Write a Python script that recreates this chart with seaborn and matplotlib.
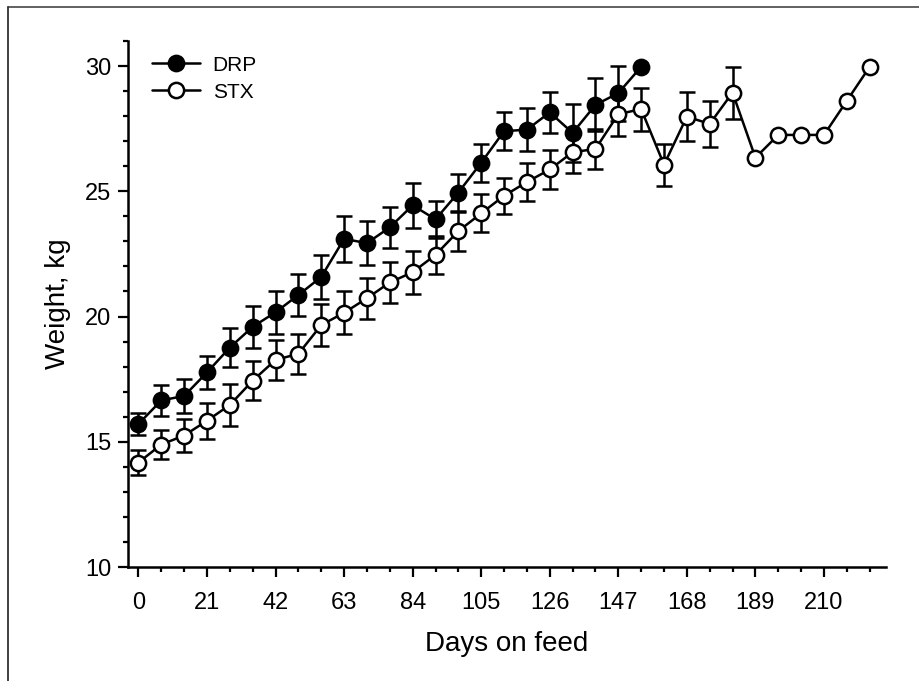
import numpy as np
import pandas as pd
import matplotlib
matplotlib.use("Agg")
import matplotlib.pyplot as plt
from matplotlib.lines import Line2D
from matplotlib.ticker import MultipleLocator
import seaborn as sns

# ── DATA ──────────────────────────────────────────────────────────────────────
DRP_DAYS = [0, 7, 14, 21, 28, 35, 42, 49, 56, 63, 70, 77, 84, 91, 98, 105,
            112, 119, 126, 133, 140, 147, 154]
DRP_MEAN = [15.71, 16.65, 16.83, 17.77, 18.76, 19.59, 20.17, 20.86, 21.58,
            23.10, 22.93, 23.56, 24.44, 23.88, 24.95, 26.14, 27.40, 27.46,
            28.15, 27.33, 28.45, 28.92, 29.97]
DRP_SEM  = [0.45, 0.62, 0.68, 0.66, 0.78, 0.85, 0.86, 0.83, 0.88, 0.92, 0.87,
            0.83, 0.91, 0.75, 0.76, 0.76, 0.77, 0.86, 0.83, 1.17, 1.06, 1.10,
            np.nan]

STX_DAYS = [0, 7, 14, 21, 28, 35, 42, 49, 56, 63, 70, 77, 84, 91, 98, 105,
            112, 119, 126, 133, 140, 147, 154, 161, 168, 175, 182, 189, 196,
            203, 210, 217, 224]
STX_MEAN = [14.17, 14.89, 15.25, 15.84, 16.47, 17.44, 18.27, 18.51, 19.66,
            20.15, 20.73, 21.36, 21.77, 22.46, 23.41, 24.12, 24.82, 25.37,
            25.87, 26.56, 26.69, 28.08, 28.28, 26.06, 27.98, 27.69, 28.94,
            26.34, 27.25, 27.25, 27.25, 28.61, 29.97]
STX_SEM  = [0.51, 0.58, 0.64, 0.71, 0.83, 0.79, 0.81, 0.81, 0.83, 0.85, 0.81,
            0.81, 0.86, 0.77, 0.79, 0.76, 0.73, 0.77, 0.76, 0.83, 0.79, 0.86,
            0.86, 0.83, 0.99, 0.93, 1.04, np.nan, np.nan, np.nan, np.nan,
            np.nan, np.nan]

X_MAJOR = 21
Y_TICKS = [10, 15, 20, 25, 30]

drp = pd.DataFrame({"day": DRP_DAYS, "weight": DRP_MEAN, "sem": DRP_SEM})
stx = pd.DataFrame({"day": STX_DAYS, "weight": STX_MEAN, "sem": STX_SEM})

# ── STYLE ─────────────────────────────────────────────────────────────────────
sns.set_style("ticks")
plt.rcParams["font.family"] = ["Liberation Sans", "DejaVu Sans"]
for k in ["text.color", "axes.labelcolor", "xtick.color", "ytick.color"]:
    plt.rcParams[k] = "black"

fig = plt.figure(figsize=(9.2, 6.81), dpi=100)
ax = fig.add_axes([128/920, 1 - 567/681, (886-128)/920, (567-41)/681])

def draw_series(df, label, face):
    ok = df.dropna(subset=["sem"])
    ax.errorbar(ok["day"], ok["weight"], yerr=ok["sem"], fmt="none",
                ecolor="black", elinewidth=1.8, capsize=5.5, capthick=1.8,
                zorder=2)
    sns.lineplot(data=df, x="day", y="weight", ax=ax, color="black",
                 linewidth=1.8, marker="o", markersize=11,
                 markerfacecolor=face, markeredgecolor="black",
                 markeredgewidth=1.8, errorbar=None, sort=False,
                 label=label, zorder=3)

draw_series(drp, "DRP", "black")
draw_series(stx, "STX", "white")

ax.set_xlim(-3.2, 229)
ax.set_ylim(10, 31)
ax.xaxis.set_major_locator(MultipleLocator(X_MAJOR))
ax.xaxis.set_minor_locator(MultipleLocator(7))
ax.set_yticks(Y_TICKS)
ax.yaxis.set_minor_locator(MultipleLocator(1))

ax.tick_params(axis="both", which="major", direction="out", length=7,
               width=1.6, color="black", labelsize=17, labelcolor="black")
ax.tick_params(axis="both", which="minor", direction="out", length=3.8,
               width=1.6, color="black")
ax.tick_params(axis="x", which="major", pad=11)
ax.tick_params(axis="y", which="major", pad=5)

sns.despine(ax=ax)
for s in ["left", "bottom"]:
    ax.spines[s].set_linewidth(1.8)
    ax.spines[s].set_color("black")

ax.set_xlabel("Days on feed", fontsize=20, labelpad=12, color="black")
ax.set_ylabel("Weight, kg", fontsize=20, labelpad=10, color="black")

leg = ax.legend(loc="upper left", bbox_to_anchor=(0.032, 0.972),
                frameon=False, fontsize=15, handlelength=2.3,
                handletextpad=0.6, labelspacing=0.38, borderpad=0,
                borderaxespad=0)
for t in leg.get_texts():
    t.set_color("black")

# frame lines at the top and left of the picture
fig.add_artist(Line2D([8/920, 1], [1 - 7/681, 1 - 7/681],
                      transform=fig.transFigure, color="#555555", lw=1.3))
fig.add_artist(Line2D([8/920, 8/920], [0, 1 - 7/681],
                      transform=fig.transFigure, color="#333333", lw=1.3))

fig.savefig("out.png", dpi=100)
